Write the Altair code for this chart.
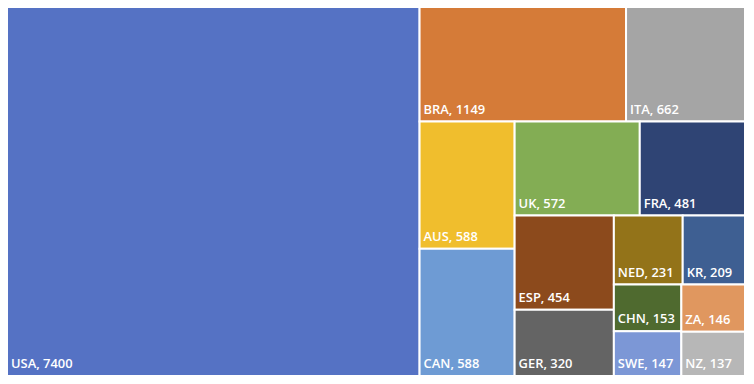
import altair as alt
import pandas as pd

countries = ["USA", "BRA", "ITA", "AUS", "CAN", "UK", "FRA", "ESP", "GER",
             "NED", "KR", "CHN", "SWE", "ZA", "NZ"]
values = [7400, 1149, 662, 588, 588, 572, 481, 454, 320, 231, 209, 153, 147, 146, 137]
colors = ["#5572C4", "#D57B38", "#A5A5A5", "#F0BE2D", "#6E9BD4", "#83AD54",
          "#2F4474", "#8C4A1C", "#646464", "#937319", "#3E5F92", "#4F6A2F",
          "#7C97D6", "#E0975F", "#B7B7B7"]

W, H = 742, 371


def worst(row, side):
    s = sum(row)
    return max(max(side * side * r / (s * s), s * s / (side * side * r)) for r in row)


def squarify(areas, x, y, w, h):
    rects = []
    i = 0
    while i < len(areas):
        side = min(w, h)
        row = [areas[i]]
        j = i + 1
        while j < len(areas) and worst(row + [areas[j]], side) <= worst(row, side):
            row.append(areas[j])
            j += 1
        s = sum(row)
        if w >= h:  # column on the left
            cw = s / h
            yy = y
            for r in row:
                rh = r / cw
                rects.append((x, x + cw, yy, yy + rh))
                yy += rh
            x += cw
            w -= cw
        else:  # row on top
            rh = s / w
            xx = x
            for r in row:
                rw = r / rh
                rects.append((xx, xx + rw, y, y + rh))
                xx += rw
            y += rh
            h -= rh
        i = j
    return rects


total = sum(values)
areas = [v * W * H / total for v in values]
rects = squarify(areas, 0, 0, W, H)

df = pd.DataFrame({
    "country": countries,
    "value": values,
    "x0": [r[0] for r in rects],
    "x1": [r[1] for r in rects],
    "y0": [r[2] for r in rects],
    "y1": [r[3] for r in rects],
})
df["label"] = df["country"] + ", " + df["value"].astype(str)

xs = alt.Scale(domain=[0, W], range=[0, W], nice=False, zero=False)
ys = alt.Scale(domain=[0, H], reverse=True, nice=False, zero=False)

base = alt.Chart(df)

cells = base.mark_rect(stroke="white", strokeWidth=2).encode(
    x=alt.X("x0:Q", scale=xs, axis=None),
    x2="x1:Q",
    y=alt.Y("y0:Q", scale=ys, axis=None),
    y2="y1:Q",
    color=alt.Color("country:N", scale=alt.Scale(domain=countries, range=colors), legend=None),
)

labels = base.mark_text(
    align="left", baseline="alphabetic", dx=4, dy=-8,
    color="white", font="Open Sans", fontSize=13, fontWeight=600,
).encode(
    x=alt.X("x0:Q", scale=xs, axis=None),
    y=alt.Y("y1:Q", scale=ys, axis=None),
    text="label:N",
)

chart = (cells + labels).properties(
    width=W, height=H,
    padding={"left": -2, "top": -3, "right": 0, "bottom": 0},
).configure_view(stroke=None)

chart.save("out.html", embed_options={"renderer": "svg", "actions": False})
